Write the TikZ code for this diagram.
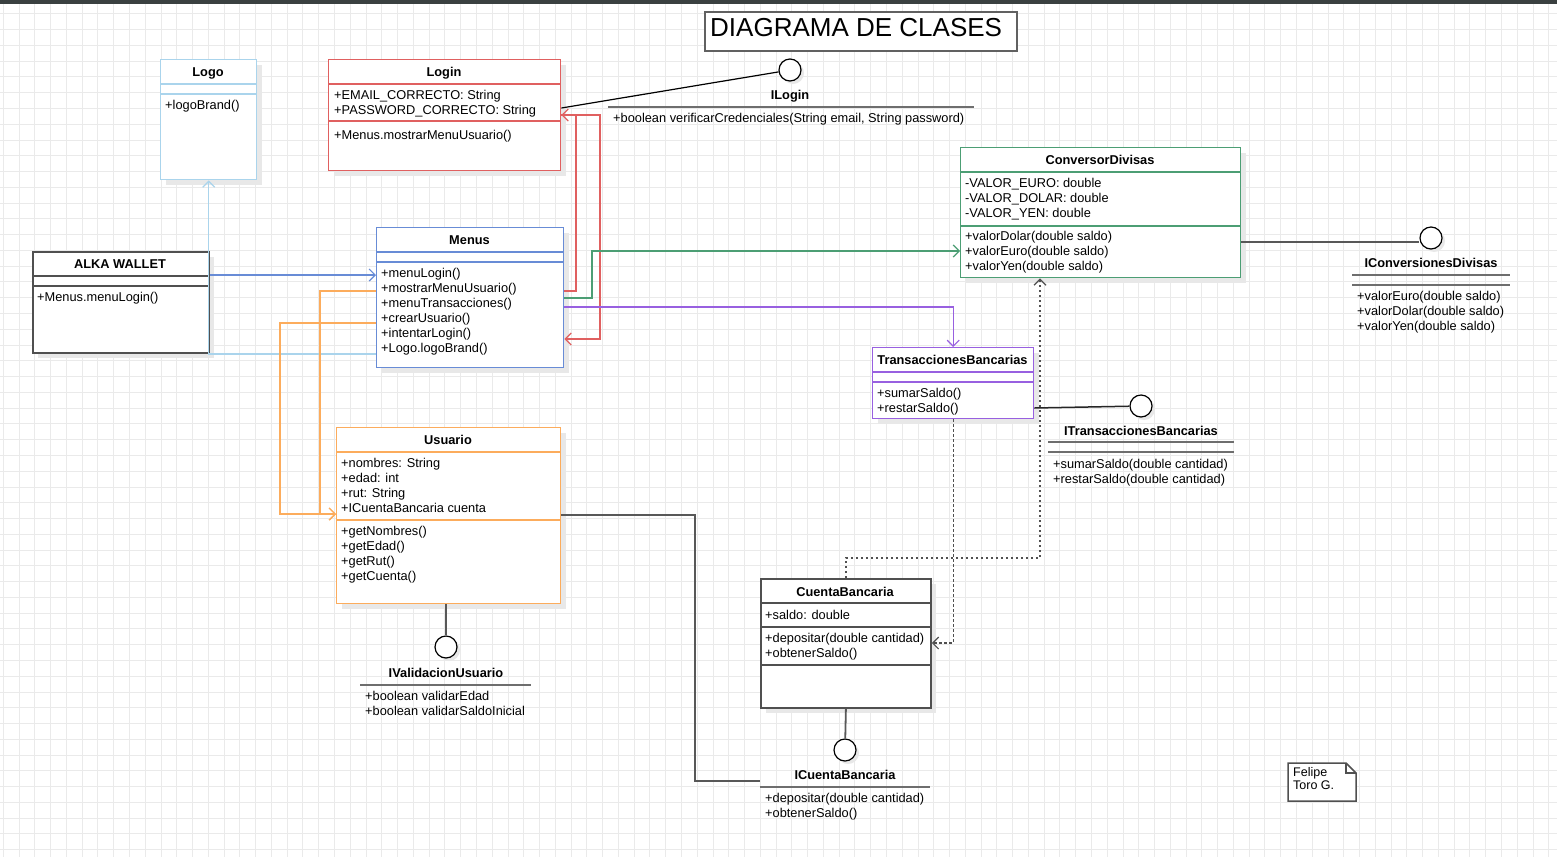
\documentclass[tikz,border=0pt]{standalone}
\usepackage{fontspec}
\setmainfont{Liberation Sans}
\usetikzlibrary{arrows.meta,calc,shadows}
\definecolor{cLogo}{RGB}{170,212,236}
\definecolor{cLogin}{RGB}{224,96,96}
\definecolor{cMenus}{RGB}{104,140,214}
\definecolor{cConv}{RGB}{76,158,116}
\definecolor{cTrans}{RGB}{152,96,224}
\definecolor{cUser}{RGB}{252,172,92}
\definecolor{cDark}{RGB}{80,80,80}
\definecolor{cIface}{RGB}{110,110,110}
\definecolor{cGrid}{RGB}{234,234,234}
\definecolor{cBar}{RGB}{58,64,64}
\newcommand\fs{\fontsize{12.8pt}{15pt}\selectfont}
\tikzset{
  cls/.style={draw=#1, line width=1.4pt, fill=white, anchor=north west, inner sep=0pt,
    drop shadow={shadow xshift=5pt, shadow yshift=-5pt, fill=black!9, opacity=1}},
  sepline/.style={draw=#1, line width=1.4pt},
  ctitle/.style={anchor=base, inner sep=0pt, font=\fs\bfseries},
  mem/.style={anchor=north west, inner sep=0pt, align=left, font=\fs},
  lolli/.style={draw=black, line width=1.2pt, circle, minimum size=22pt, inner sep=0pt, fill=white,
    drop shadow={shadow xshift=3pt, shadow yshift=-3pt, fill=black!9, opacity=1}},
  ifline/.style={draw=cIface, line width=1.6pt},
  conn/.style={line width=1.2pt, -{Straight Barb[length=6pt,width=12pt]}},
  dep/.style={draw=cDark, line width=1.2pt, dash pattern=on 2.5pt off 2.5pt, -{Straight Barb[length=6pt,width=12pt]}},
}
\begin{document}
\begin{tikzpicture}[x=1pt,y=-1pt]
\useasboundingbox (0,0) rectangle (1557,857);
\fill[white] (0,0) rectangle (1557,857);
% grid
\foreach \i in {0,...,99} \draw[cGrid, line width=0.8pt] ({3.26+15.77*\i},0) -- ({3.26+15.77*\i},857);
\foreach \j in {0,...,55} \draw[cGrid, line width=0.8pt] (0,{-1.97+15.77*\j}) -- (1557,{-1.97+15.77*\j});
\fill[cBar] (0,0) rectangle (1557,3.5);

% title
\node[draw=cDark!90, line width=1.5pt, fill=white, anchor=north west, inner sep=0pt, minimum width=312pt, minimum height=39pt] (titlebox) at (704,11) {};
\node[anchor=base west, inner sep=0pt, font=\fontsize{26pt}{30pt}\selectfont] (title) at (710,36.3) {DIAGRAMA DE CLASES};

% Logo
\node[cls=cLogo, minimum width=96pt, minimum height=120pt] (logo) at (160,59) {};
\draw[sepline=cLogo] (logo.west |- 0,84) -- (logo.east |- 0,84);
\draw[sepline=cLogo] (logo.west |- 0,94) -- (logo.east |- 0,94);
\node[ctitle] (logo-t) at (208,76) {Logo};
\node[mem] (logo-m) at (165,98.5) {\strut+logoBrand()};

% Login
\node[cls=cLogin, minimum width=232pt, minimum height=111pt] (login) at (328,59) {};
\draw[sepline=cLogin] (login.west |- 0,84) -- (login.east |- 0,84);
\draw[sepline=cLogin] (login.west |- 0,121) -- (login.east |- 0,121);
\node[ctitle] (login-t) at (444,76) {Login};
\node[mem] (login-a) at (334,88.5) {\strut+EMAIL\_CORRECTO: String\\+PASSWORD\_CORRECTO: String};
\node[mem] (login-m) at (334,128.5) {\strut+Menus.mostrarMenuUsuario()};

% ILogin
\node[lolli] (ilogin) at (790,70) {};
\node[ctitle] (ilogin-t) at (790,99) {ILogin};
\draw[ifline] (608,107) -- (974,107);
\node[mem] (ilogin-m) at (613,111.5) {\strut+boolean verificarCredenciales(String email, String password)};

% ConversorDivisas
\node[cls=cConv, minimum width=280pt, minimum height=130pt] (conv) at (960,147) {};
\draw[sepline=cConv] (conv.west |- 0,172) -- (conv.east |- 0,172);
\draw[sepline=cConv] (conv.west |- 0,226) -- (conv.east |- 0,226);
\node[ctitle] (conv-t) at (1100,164) {ConversorDivisas};
\node[mem] (conv-a) at (965,176.5) {\strut-VALOR\_EURO: double\\-VALOR\_DOLAR: double\\-VALOR\_YEN: double};
\node[mem] (conv-m) at (965,229.5) {\strut+valorDolar(double saldo)\\+valorEuro(double saldo)\\+valorYen(double saldo)};

% IConversionesDivisas
\node[lolli] (iconv) at (1431,238) {};
\node[ctitle] (iconv-t) at (1431,267) {IConversionesDivisas};
\draw[ifline] (1352,275) -- (1510,275);
\draw[ifline] (1352,285) -- (1510,285);
\node[mem] (iconv-m) at (1357,289.5) {\strut+valorEuro(double saldo)\\+valorDolar(double saldo)\\+valorYen(double saldo)};

% ALKA WALLET
\node[cls=cDark, line width=2pt, minimum width=176pt, minimum height=101pt] (alka) at (32,251) {};
\draw[sepline=cDark, line width=2pt] (alka.west |- 0,276) -- (alka.east |- 0,276);
\draw[sepline=cDark, line width=2pt] (alka.west |- 0,286) -- (alka.east |- 0,286);
\node[ctitle] (alka-t) at (120,268) {ALKA WALLET};
\node[mem] (alka-m) at (37,290.5) {\strut+Menus.menuLogin()};

% Menus
\node[cls=cMenus, minimum width=187pt, minimum height=140pt] (menus) at (376,227) {};
\draw[sepline=cMenus] (menus.west |- 0,252) -- (menus.east |- 0,252);
\draw[sepline=cMenus] (menus.west |- 0,262) -- (menus.east |- 0,262);
\node[ctitle] (menus-t) at (469.5,244) {Menus};
\node[mem] (menus-m) at (381,266.5) {\strut+menuLogin()\\+mostrarMenuUsuario()\\+menuTransacciones()\\+crearUsuario()\\+intentarLogin()\\+Logo.logoBrand()};

% TransaccionesBancarias
\node[cls=cTrans, minimum width=161pt, minimum height=71pt] (trans) at (872,347) {};
\draw[sepline=cTrans] (trans.west |- 0,372) -- (trans.east |- 0,372);
\draw[sepline=cTrans] (trans.west |- 0,382) -- (trans.east |- 0,382);
\node[ctitle] (trans-t) at (952.5,364) {TransaccionesBancarias};
\node[mem] (trans-m) at (877,386.5) {\strut+sumarSaldo()\\+restarSaldo()};

% ITransaccionesBancarias
\node[lolli] (itrans) at (1141,406) {};
\node[ctitle] (itrans-t) at (1141,435) {ITransaccionesBancarias};
\draw[ifline] (1048,442) -- (1234,442);
\draw[ifline] (1048,452) -- (1234,452);
\node[mem] (itrans-m) at (1053,457.5) {\strut+sumarSaldo(double cantidad)\\+restarSaldo(double cantidad)};

% Usuario
\node[cls=cUser, minimum width=224pt, minimum height=176pt] (usuario) at (336,427) {};
\draw[sepline=cUser] (usuario.west |- 0,452) -- (usuario.east |- 0,452);
\draw[sepline=cUser] (usuario.west |- 0,520) -- (usuario.east |- 0,520);
\node[ctitle] (usuario-t) at (448,444) {Usuario};
\node[mem] (usuario-a) at (341,456.5) {\strut+nombres: String\\+edad: int\\+rut: String\\+ICuentaBancaria cuenta};
\node[mem] (usuario-m) at (341,524.5) {\strut+getNombres()\\+getEdad()\\+getRut()\\+getCuenta()};

% IValidacionUsuario
\node[lolli] (ivalid) at (446,647) {};
\node[ctitle] (ivalid-t) at (446,677) {IValidacionUsuario};
\draw[ifline] (360,685) -- (531,685);
\node[mem] (ivalid-m) at (365,689.5) {\strut+boolean validarEdad\\+boolean validarSaldoInicial};

% CuentaBancaria
\node[cls=cDark, line width=1.8pt, minimum width=170pt, minimum height=129pt] (cuenta) at (760,578) {};
\draw[sepline=cDark, line width=1.8pt] (cuenta.west |- 0,603) -- (cuenta.east |- 0,603);
\draw[sepline=cDark, line width=1.8pt] (cuenta.west |- 0,627) -- (cuenta.east |- 0,627);
\draw[sepline=cDark, line width=1.8pt] (cuenta.west |- 0,665) -- (cuenta.east |- 0,665);
\node[ctitle] (cuenta-t) at (845,596) {CuentaBancaria};
\node[mem] (cuenta-a) at (765,608.5) {\strut+saldo: double};
\node[mem] (cuenta-m) at (765,631.5) {\strut+depositar(double cantidad)\\+obtenerSaldo()};

% ICuentaBancaria
\node[lolli] (icuenta) at (845,750) {};
\node[ctitle] (icuenta-t) at (845,779) {ICuentaBancaria};
\draw[ifline] (760,787) -- (930,787);
\coordinate (icuenta-w) at (760,781);
\node[mem] (icuenta-m) at (765,791.5) {\strut+depositar(double cantidad)\\+obtenerSaldo()};

% note
\draw[cDark, line width=1.5pt, fill=white] (1288,763) -- (1346,763) -- (1356,773) -- (1356,801) -- (1288,801) -- cycle;
\draw[cDark, line width=1.2pt] (1346,763) -- (1346,773) -- (1356,773);
\node[anchor=north west, inner sep=0pt, align=left, font=\fontsize{12.5pt}{13pt}\selectfont] (note) at (1293,767) {\strut Felipe\\Toro G.};

% interface links
\draw[black, line width=1.2pt] (login.east |- 0,108) -- (ilogin);
\draw[cIface!80!black, line width=1.5pt] (conv.east |- 0,242) -- (iconv.west |- 0,242);
\draw[black!85, line width=1.5pt] (trans.east |- 0,408) -- (itrans);
\draw[cIface!80!black, line width=1.8pt] (cuenta.south) -- (icuenta);
\draw[cIface!80!black, line width=1.8pt] (usuario.south -| ivalid) -- (ivalid);
\draw[cIface!80!black, line width=1.5pt] (usuario.east |- 0,515) -| (695,781) -- (icuenta-w);

% connectors
\draw[conn, cMenus] (alka.east |- 0,275) -- (menus.west |- 0,275);
\draw[conn, cLogo] (menus.west |- 0,354) -| (logo.south);
\draw[conn, cLogin] (menus.east |- 0,291) -| (576,115) -- (login.east |- 0,115);
\draw[conn, cLogin] (login.east |- 0,115) -| (600,339) -- (menus.east |- 0,339);
\draw[conn, cConv] (menus.east |- 0,298) -| (592,251) -- (conv.west |- 0,251);
\draw[conn, cTrans] (menus.east |- 0,307) -| (trans.north);
\draw[conn, cUser] (menus.west |- 0,291) -| (320,514) -- (usuario.west |- 0,514);
\draw[conn, cUser] (menus.west |- 0,323) -| (280,514) -- (usuario.west |- 0,514);
\draw[dep] (trans.south) |- (cuenta.east |- 0,643);
\draw[dep] (cuenta.north) |- (1040,558) -- (conv.south -| 1040,0);
\end{tikzpicture}
\end{document}
